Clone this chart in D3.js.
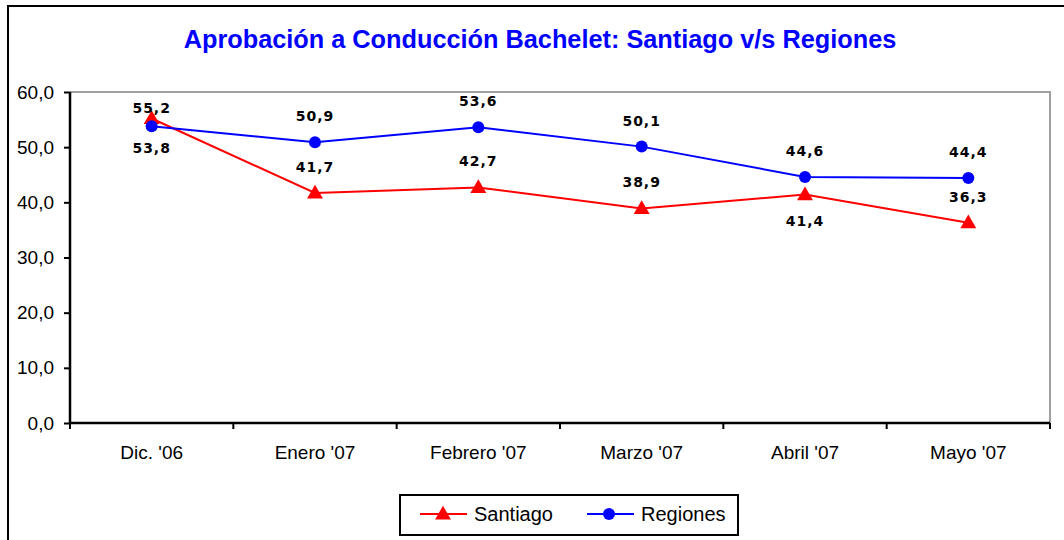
<!DOCTYPE html>
<html>
<head>
<meta charset="utf-8">
<script src="https://cdn.jsdelivr.net/npm/d3@7"></script>
<style>
  body { margin: 0; background: #fff; }
  svg { display: block; }
</style>
</head>
<body>
<div id="chart"></div>
<script>

// DATA
// --------------------------------------------------------------------------

var months   = ["Dic. '06", "Enero '07", "Febrero '07", "Marzo '07", "Abril '07", "Mayo '07"];
var santiago = [55.2, 41.7, 42.7, 38.9, 41.4, 36.3];
var regiones = [53.8, 50.9, 53.6, 50.1, 44.6, 44.4];
var yTicks   = [0, 10, 20, 30, 40, 50, 60];

// CHART
// --------------------------------------------------------------------------

var W = 1064, H = 540;
var plot = { left: 70, top: 92, right: 1050, bottom: 423 };
var sans = '"Liberation Sans", Arial, sans-serif';

var svg = d3.select('#chart').append('svg')
  .attr('width', W).attr('height', H);

// Outer frame (clipped by the window on right/bottom).
svg.append('rect')
  .attr('x', 8).attr('y', 6).attr('width', W + 10).attr('height', H + 10)
  .attr('fill', '#fff').attr('stroke', '#000').attr('stroke-width', 2);

// Title.
svg.append('text')
  .attr('x', 540).attr('y', 48)
  .attr('text-anchor', 'middle')
  .style('font-family', sans)
  .style('font-weight', 'bold').style('font-size', '25.3px')
  .attr('fill', '#0000ff')
  .text('Aprobación a Conducción Bachelet: Santiago v/s Regiones');

var x = d3.scaleBand().domain(months).range([plot.left, plot.right]);
var y = d3.scaleLinear().domain([0, 60]).range([plot.bottom, plot.top]);
var cx = function(d, i) { return x(months[i]) + x.bandwidth() / 2; };

// Plot area border (grey top & right).
svg.append('path')
  .attr('d', 'M' + plot.left + ',' + plot.top + 'H' + plot.right + 'V' + plot.bottom)
  .attr('fill', 'none').attr('stroke', '#a0a0a0').attr('stroke-width', 2);

// Y axis.
var yAxis = svg.append('g')
  .attr('transform', 'translate(' + plot.left + ',0)')
  .call(d3.axisLeft(y).tickValues(yTicks).tickSize(6).tickPadding(10)
    .tickFormat(function(d) { return d3.format('.1f')(d).replace('.', ','); }));

// X axis with ticks between categories.
var xAxis = svg.append('g')
  .attr('transform', 'translate(0,' + plot.bottom + ')')
  .call(d3.axisBottom(x).tickSize(0).tickPadding(23));
xAxis.selectAll('.tick line').remove();
xAxis.selectAll('.sep')
  .data(d3.range(months.length + 1))
  .enter().append('line')
  .attr('x1', function(i) { return plot.left + i * x.bandwidth(); })
  .attr('x2', function(i) { return plot.left + i * x.bandwidth(); })
  .attr('y1', 0).attr('y2', 6)
  .attr('stroke', '#000').attr('stroke-width', 2);

[yAxis, xAxis].forEach(function(g) {
  g.select('.domain').attr('stroke', '#000').attr('stroke-width', 2.5);
  g.selectAll('.tick line').attr('stroke', '#000').attr('stroke-width', 2);
  g.selectAll('text')
    .style('font-family', sans)
    .style('font-size', '19px').attr('fill', '#000');
});
xAxis.select('.domain').attr('d', 'M' + plot.left + ',0H' + plot.right);
yAxis.select('.domain').attr('d', 'M0,' + plot.bottom + 'V' + plot.top);

// Series.
var line = d3.line().x(cx).y(function(d) { return y(d); });
var tri = d3.symbol().type(d3.symbolTriangle).size(110);

var series = [
  { name: 'Santiago', values: santiago, color: '#ff0000', marker: 'tri',
    side: [-1, -1, -1, -1, 1, -1] },
  { name: 'Regiones', values: regiones, color: '#0000ff', marker: 'dot',
    side: [1, -1, -1, -1, -1, -1] }
];

series.forEach(function(s) {
  svg.append('path')
    .attr('d', line(s.values))
    .attr('fill', 'none').attr('stroke', s.color).attr('stroke-width', 2);
});

series.forEach(function(s) {
  var g = svg.append('g');
  if (s.marker == 'tri') {
    g.selectAll('path').data(s.values).enter().append('path')
      .attr('d', tri)
      .attr('transform', function(d, i) { return 'translate(' + cx(d, i) + ',' + (y(d) + 1) + ')'; })
      .attr('fill', s.color);
  } else {
    g.selectAll('circle').data(s.values).enter().append('circle')
      .attr('cx', cx).attr('cy', function(d) { return y(d); })
      .attr('r', 6).attr('fill', s.color);
  }
});

// Data labels.
series.forEach(function(s) {
  svg.append('g').selectAll('text').data(s.values).enter().append('text')
    .attr('x', cx)
    .attr('y', function(d, i) {
      var off = s.side[i] < 0 ? -21 : 31;
      if (s.name == 'Santiago' && i == 0) off = -5;
      if (s.name == 'Regiones' && i == 0) off = 27;
      return y(d) + off;
    })
    .attr('text-anchor', 'middle')
    .style('font-family', '"DejaVu Sans", Verdana, sans-serif')
    .style('font-weight', 'bold').style('font-size', '14px')
    .style('letter-spacing', '1px')
    .attr('fill', '#000')
    .text(function(d) { return d3.format('.1f')(d).replace('.', ','); });
});

// Legend.
var lg = svg.append('g');
lg.append('rect')
  .attr('x', 400).attr('y', 495).attr('width', 338).attr('height', 40)
  .attr('fill', '#fff').attr('stroke', '#000').attr('stroke-width', 2);

var legendX = [420, 587];
series.forEach(function(s, k) {
  var lx = legendX[k];
  lg.append('line')
    .attr('x1', lx).attr('x2', lx + 47).attr('y1', 514).attr('y2', 514)
    .attr('stroke', s.color).attr('stroke-width', 2);
  if (s.marker == 'tri') {
    lg.append('path').attr('d', tri)
      .attr('transform', 'translate(' + (lx + 23) + ',515)').attr('fill', s.color);
  } else {
    lg.append('circle').attr('cx', lx + 22).attr('cy', 514).attr('r', 6)
      .attr('fill', s.color);
  }
  lg.append('text')
    .attr('x', lx + 54).attr('y', 521)
    .style('font-family', sans)
    .style('font-size', '20px').attr('fill', '#000')
    .text(s.name);
});

</script>
</body>
</html>
